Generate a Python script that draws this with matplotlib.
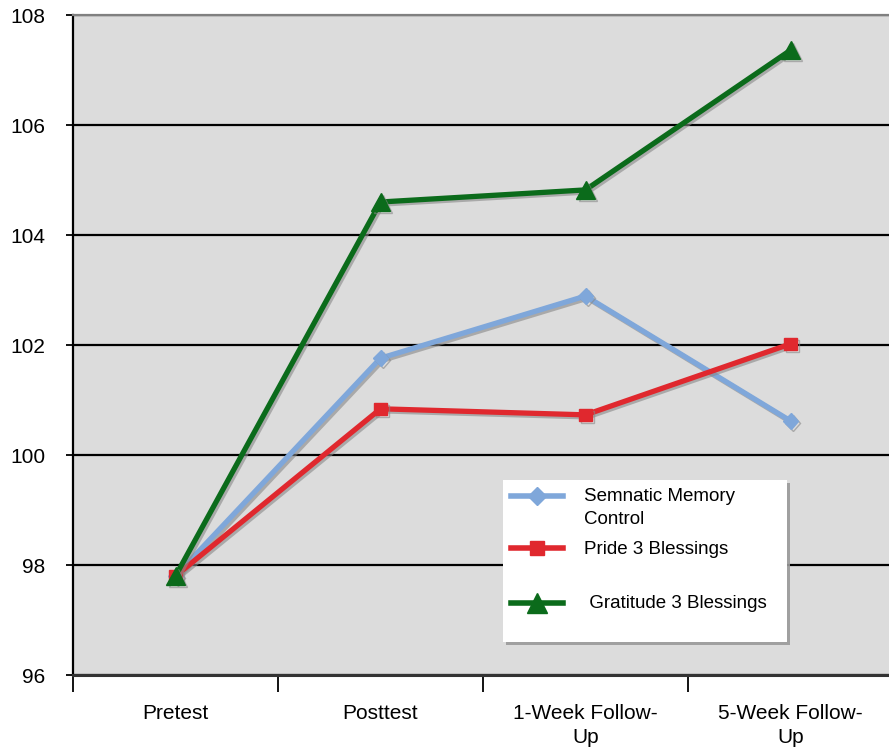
import matplotlib

matplotlib.use("Agg")
import matplotlib.pyplot as plt
import matplotlib.patheffects as pe
import numpy as np

plt.rcParams["font.family"] = ["Liberation Sans", "DejaVu Sans"]

phases = ["Pretest", "Posttest", "1-Week Follow-\nUp", "5-Week Follow-\nUp"]
control = [97.8, 101.76, 102.89, 100.62]
pride = [97.8, 100.84, 100.73, 102.02]
gratitude = [97.8, 104.6, 104.82, 107.36]

# legend text keeps the blank lines that space the last entry out
series = [
    ("Semnatic Memory\nControl", control, "#7FA7DA", "D", 8),
    ("Pride 3 Blessings", pride, "#E0282E", "s", 9),
    ("\n Gratitude 3 Blessings\n", gratitude, "#0B6B1B", "^", 13),
]

fig = plt.figure(figsize=(8.89, 7.54), dpi=100, facecolor="white")
ax = fig.add_axes([73 / 889, 1 - 675 / 754, 820 / 889, 660 / 754])
ax.set_facecolor("#DCDCDC")

x = np.arange(len(phases)) + 0.5
shadow = [pe.SimpleLineShadow(offset=(1.5, -1.5), shadow_color="#888888", alpha=0.6), pe.Normal()]
handles = []
for label, vals, color, marker, ms in series:
    (ln,) = ax.plot(x, vals, color=color, linewidth=3.8, marker=marker, markersize=ms,
                    markeredgecolor=color, label=label, zorder=3, path_effects=shadow)
    handles.append(ln)

ax.set_xlim(0, 4)
ax.set_ylim(96, 108)
ax.set_yticks(np.arange(96, 109, 2))
ax.yaxis.grid(True, color="black", linewidth=1.6)
ax.set_axisbelow(True)

ax.set_xticks(np.arange(0, 5))
ax.set_xticklabels([])
ax.set_xticks(x, minor=True)
ax.set_xticklabels(phases, minor=True, fontsize=15, va="top", linespacing=1.32)
ax.tick_params(axis="x", which="major", length=12, width=1.3, direction="out", color="black")
ax.tick_params(axis="x", which="minor", length=0, pad=21)
ax.tick_params(axis="y", length=5, width=1.3, pad=15, labelsize=15)

ax.spines["left"].set_color("black")
ax.spines["left"].set_linewidth(1.6)
ax.spines["bottom"].set_color("#333333")
ax.spines["bottom"].set_linewidth(2.2)
ax.spines["top"].set_color("#808080")
ax.spines["top"].set_linewidth(1.6)
ax.spines["right"].set_visible(False)

leg = ax.legend(handles=handles, loc="upper left", mode="expand",
                bbox_to_anchor=(430 / 820, 35 / 660, 284 / 820, 160 / 660),
                frameon=True, fancybox=False, shadow={"color": "#9A9A9A", "alpha": 0.9},
                fontsize=13.5, labelspacing=0.72, handlelength=2.8, handletextpad=1.1,
                borderpad=0.4, borderaxespad=0)
leg.get_frame().set_edgecolor("white")
leg.get_frame().set_linewidth(0)
for t in leg.get_texts():
    t.set_linespacing(1.47)
for h in leg.legend_handles:
    h.set_path_effects([])
    h.set_linewidth(4)
leg.legend_handles[0].set_markersize(9)
leg.legend_handles[1].set_markersize(10)
leg.legend_handles[2].set_markersize(15)
# lift the first sample up to the first line of its two-line label
first = leg.legend_handles[0]
first.set_ydata(np.asarray(first.get_ydata()) + 8)

fig.savefig("out.png", dpi=100, facecolor=fig.get_facecolor())
